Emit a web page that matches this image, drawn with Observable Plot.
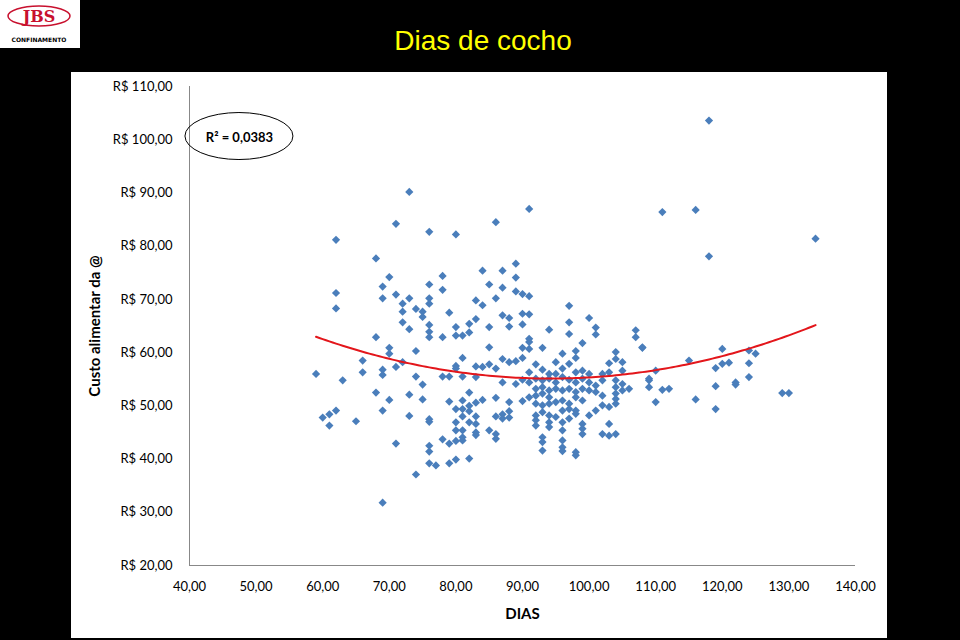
<!DOCTYPE html>
<html>
<head>
<meta charset="utf-8">
<script src="https://cdn.jsdelivr.net/npm/d3@7"></script>
<script src="https://cdn.jsdelivr.net/npm/@observablehq/plot@0.6"></script>
<style>
  html, body { margin: 0; padding: 0; background: #000; }
  #page { position: relative; width: 960px; height: 640px; background: #000; overflow: hidden; }
  #logo { position: absolute; left: 0; top: 0; width: 80px; height: 48px; background: #fff; }
  #title { position: absolute; left: 0; top: 24px; width: 966px; text-align: center; color: #ffff00;
           font-family: "Liberation Sans", Arial, sans-serif; font-size: 28px; line-height: 34px; }
  #panel { position: absolute; left: 71px; top: 72px; width: 816px; height: 566px; background: #fff; }
</style>
</head>
<body>
<div id="page">
  <div id="logo">
    <svg width="80" height="48">
      <ellipse cx="39" cy="16" rx="31" ry="10" fill="none" stroke="#c8102e" stroke-width="1.5"></ellipse>
      <text x="39" y="22" text-anchor="middle" fill="#c8102e" font-family="'DejaVu Serif', serif" font-weight="bold" font-size="16">JBS</text>
      <text x="39" y="42" text-anchor="middle" fill="#000" font-family="'DejaVu Sans', sans-serif" font-weight="bold" font-size="6">CONFINAMENTO</text>
    </svg>
  </div>
  <div id="title">Dias de cocho</div>
  <div id="panel"></div>
</div>
<script>
// ---- data ----
const dias = [
  73,62,71,76,80,68,62,62,70,69,69,71,73,76,78,78,76,76,72,72,74,75,75,79,72,73,76,76,76,78,80,80,81,82,82,83,83,68,84,
  59,63,66,66,70,70,69,69,71,72,74,74,75,68,70,73,75,69,62,61,60,61,65,73,76,76,71,78,79,80,76,76,76,77,79,80,82,74,69,80,80,81,78,79,81,83,83,79,82,81,80,81,82,83,82,81,83,80,82,83,80,81,83,83,81,81,
  91,86,111,89,87,89,85,87,86,89,90,91,84,87,88,90,91,85,88,90,94,97,97,97,100,101,101,107,107,91,
  85,91,90,91,93,99,96,98,98,104,103,104,105,108,84,85,86,87,88,89,90,92,95,96,97,91,93,94,95,98,99,100,102,103,105,110,
  87,89,90,91,92,93,94,95,96,97,98,99,100,101,102,104,105,109,109,92,93,94,95,93,92,94,96,97,98,99,100,101,102,104,105,106,104,
  84,86,88,90,91,92,93,94,95,96,97,98,99,96,97,98,102,103,104,104,110,101,100,93,94,95,97,98,86,87,88,88,87,92,92,92,94,94,96,
  99,99,99,103,102,103,104,96,96,96,96,93,93,93,98,98,85,86,86,108,109,
  116,118,134,118,
  120,115,119,120,121,124,125,124,124,122,122,119,111,112,116,119,129,130
];
const custo = [
  90.2,81.2,84.2,82.7,82.2,77.7,71.2,68.3,74.2,72.4,70.2,70.9,70.2,72.8,74.4,71.8,70.2,69.2,69.2,67.7,68.2,67.7,66.7,67.5,65.7,64.4,65.2,63.9,62.9,62.9,64.8,63.2,63.2,65.4,63.8,66.3,69.8,62.9,75.4,
  56.0,54.8,58.5,56.3,60.9,59.8,56.8,55.8,57.3,58.2,60.3,55.5,54.0,52.5,51.1,52.1,51.2,49.1,49.1,48.4,47.8,46.3,47.1,48.1,47.5,47.0,42.9,43.7,42.9,43.4,42.5,41.4,39.2,38.8,39.2,39.9,40.1,37.1,31.8,57.5,57.0,59.0,55.5,55.5,55.5,57.4,55.4,50.8,52.5,51.0,49.4,49.4,50.0,50.6,49.0,48.0,48.0,46.9,46.9,46.6,45.4,45.4,45.0,44.5,44.1,43.5,
  87.0,84.5,86.4,76.7,75.4,74.1,72.8,72.2,70.2,71.5,71.0,70.6,68.9,67.0,66.5,67.3,67.2,64.8,64.9,65.3,64.3,68.8,65.7,63.5,66.5,64.7,63.4,64.2,62.9,62.6,
  61.0,62.0,60.9,60.7,60.9,61.8,59.8,60.3,59.0,60.1,58.0,58.8,58.2,60.9,57.3,57.8,57.0,58.8,58.2,58.4,59.0,57.8,58.2,57.0,57.9,56.3,56.8,56.0,56.0,56.3,56.6,56.0,56.0,56.3,56.6,56.6,
  54.4,54.1,54.9,54.4,55.1,54.8,55.1,54.4,55.4,54.9,54.4,55.1,54.4,53.8,54.8,54.8,54.1,54.8,53.5,53.2,53.5,52.9,53.2,52.3,51.9,51.6,52.9,53.2,52.6,53.2,52.9,52.6,51.9,53.5,52.9,53.2,52.3,
  51.1,51.5,50.7,50.9,51.6,50.4,50.1,50.4,50.7,51.0,50.4,51.6,51.0,49.1,49.4,49.1,50.1,49.8,50.4,51.3,50.7,49.1,48.2,48.8,48.2,47.9,47.6,48.5,48.0,48.4,49.0,47.8,47.6,48.2,47.3,46.3,46.9,46.0,46.9,
  46.6,45.7,44.7,46.6,44.7,44.4,44.7,45.4,43.5,42.2,41.5,44.1,43.2,41.6,41.3,40.7,45.4,44.7,43.8,61.0,55.1,
  86.8,78.1,81.4,103.6,
  60.7,58.5,57.1,57.9,58.1,60.4,59.8,58.0,55.4,54.4,54.0,53.7,53.0,53.2,51.2,49.4,52.4,52.4
];
const xTicks = [40, 50, 60, 70, 80, 90, 100, 110, 120, 130, 140];
const yTicks = [20, 30, 40, 50, 60, 70, 80, 90, 100, 110];
const r2Label = "R² = 0,0383";
const r2Pos = [47.5, 100.6];
const xTitle = "DIAS";
const yTitle = "Custo alimentar da @";

// ---- build table ----
const n = Math.min(dias.length, custo.length);
const points = d3.range(n).map(i => ({dia: dias[i], custo: custo[i]}));

// polynomial (order 2) least-squares trend line, as the spreadsheet does
function quadFit(xs, ys) {
  let S = [0,0,0,0,0], T = [0,0,0];
  for (let i = 0; i < xs.length; i++) {
    const x = xs[i], y = ys[i];
    let p = 1;
    for (let k = 0; k < 5; k++) { S[k] += p; if (k < 3) T[k] += p * y; p *= x; }
  }
  const A = [[S[0],S[1],S[2],T[0]],[S[1],S[2],S[3],T[1]],[S[2],S[3],S[4],T[2]]];
  for (let c = 0; c < 3; c++) {
    for (let r = c + 1; r < 3; r++) {
      const f = A[r][c] / A[c][c];
      for (let k = c; k < 4; k++) A[r][k] -= f * A[c][k];
    }
  }
  const b = [0,0,0];
  for (let r = 2; r >= 0; r--) {
    let s = A[r][3];
    for (let k = r + 1; k < 3; k++) s -= A[r][k] * b[k];
    b[r] = s / A[r][r];
  }
  return b;
}
const coef = quadFit(points.map(d => d.dia), points.map(d => d.custo));
const [xmin, xmax] = d3.extent(points, d => d.dia);
const trend = d3.range(xmin, xmax + 0.001, 0.5).map(x => ({dia: x, custo: coef[0] + coef[1]*x + coef[2]*x*x}));

const fmtNum = d => d.toFixed(2).replace(".", ",");
const font = "Lato, 'Open Sans', sans-serif";

const plot = Plot.plot({
  width: 816,
  height: 566,
  marginLeft: 118,
  marginRight: 32,
  marginTop: 14,
  marginBottom: 73,
  style: {background: "#fff", fontFamily: font, fontSize: "13px", color: "#000"},
  x: {domain: [40, 140], label: null},
  y: {domain: [20, 110], label: null},
  marks: [
    Plot.axisX(xTicks, {tickSize: 0, tickPadding: 16, tickFormat: fmtNum, fontSize: 13, label: null}),
    Plot.axisY(yTicks, {tickSize: 0, tickPadding: 17, tickFormat: d => "R$ " + fmtNum(d), fontSize: 13, label: null}),
    Plot.ruleX([40], {stroke: "#888", strokeWidth: 1}),
    Plot.ruleY([20], {stroke: "#888", strokeWidth: 1}),
    Plot.dot(points, {x: "dia", y: "custo", symbol: "diamond2", r: 3.7, fill: "#4a7ebb"}),
    Plot.line(trend, {x: "dia", y: "custo", stroke: "#e3161b", strokeWidth: 2, curve: "linear"}),
    Plot.text([r2Label], {x: () => r2Pos[0], y: () => r2Pos[1], text: d => d, fontWeight: "bold", fontSize: 13, dy: 1}),
    Plot.text([xTitle], {frameAnchor: "bottom", dy: 49, lineAnchor: "middle", text: d => d, fontWeight: "bold", fontSize: 15}),
    Plot.text([yTitle], {frameAnchor: "left", dx: -94, rotate: -90, textAnchor: "middle", lineAnchor: "middle", text: d => d, fontWeight: "bold", fontSize: 15})
  ]
});

// ellipse around the R² annotation, placed through the plot's scales
const sx = plot.scale("x"), sy = plot.scale("y");
d3.select(plot).append("ellipse")
  .attr("cx", sx.apply(r2Pos[0]))
  .attr("cy", sy.apply(r2Pos[1]))
  .attr("rx", 54).attr("ry", 23.5)
  .attr("fill", "none").attr("stroke", "#000").attr("stroke-width", 1);

document.getElementById("panel").appendChild(plot);
</script>
</body>
</html>
